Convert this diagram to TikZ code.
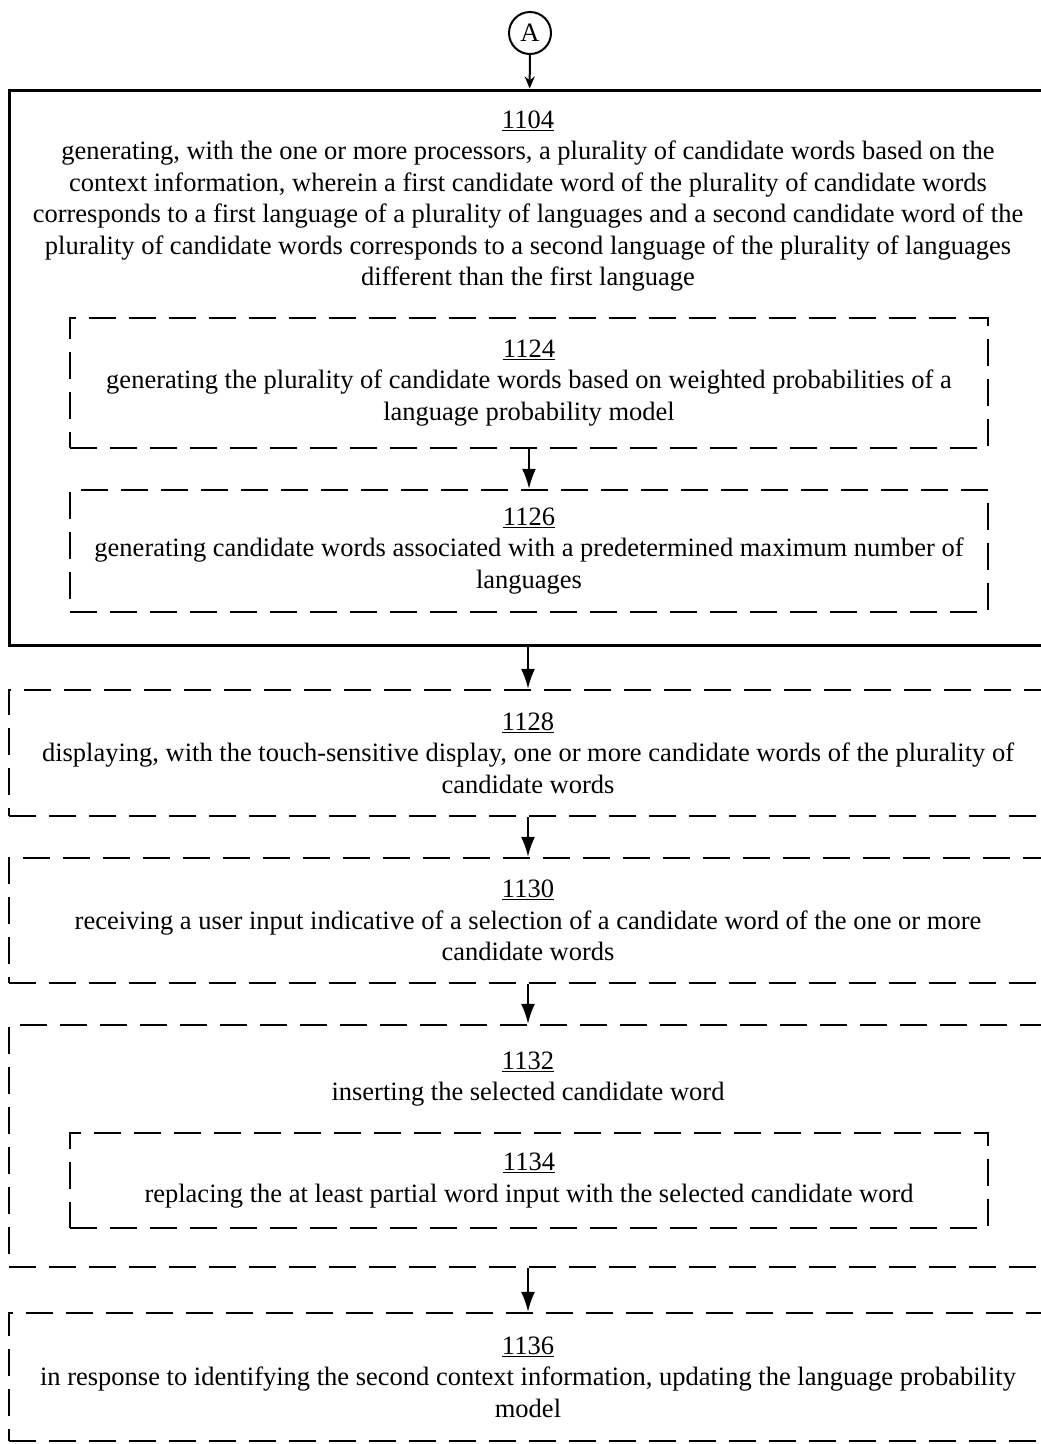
\documentclass[tikz,border=0pt]{standalone}
\usepackage{fontspec}
\setmainfont{Liberation Serif}
\usetikzlibrary{arrows.meta}

\tikzset{
  dashbox/.style={draw, line width=2.4pt, dash pattern=on 27pt off 13pt, inner sep=0pt, align=center},
  solidbox/.style={draw, line width=3pt, inner sep=0pt},
  flow/.style={line width=2pt, -{Latex[length=20pt,width=14pt]}}
}

\begin{document}
\begin{tikzpicture}[x=1pt, y=1pt, font=\fontsize{26.5}{31.5}\selectfont]
\useasboundingbox (0,0) rectangle (1041,-1444);

\node[draw, circle, line width=2pt, minimum size=42pt, inner sep=0pt] (conA) at (530,-33) {A};

% outer step with its two sub-steps
\node[solidbox, minimum width=1038pt, minimum height=555pt] (b1104) at (528,-367.5) {};
\node[align=center] (t1104) at (528,-201) {\underline{1104}\\
generating, with the one or more processors, a plurality of candidate words based on the\\
context information, wherein a first candidate word of the plurality of candidate words\\
corresponds to a first language of a plurality of languages and a second candidate word of the\\
plurality of candidate words corresponds to a second language of the plurality of languages\\
different than the first language};
\node[dashbox, minimum width=918pt, minimum height=130pt] (b1124) at (529,-383) {\underline{1124}\\
generating the plurality of candidate words based on weighted probabilities of a\\
language probability model};
\node[dashbox, minimum width=918pt, minimum height=122pt] (b1126) at (529,-551) {\underline{1126}\\
generating candidate words associated with a predetermined maximum number of\\
languages};

\node[dashbox, minimum width=1038pt, minimum height=126pt] (b1128) at (528,-753) {\underline{1128}\\
displaying, with the touch-sensitive display, one or more candidate words of the plurality of\\
candidate words};
\node[dashbox, minimum width=1038pt, minimum height=125pt] (b1130) at (528,-920.5) {\underline{1130}\\
receiving a user input indicative of a selection of a candidate word of the one or more\\
candidate words};

\node[dashbox, minimum width=1038pt, minimum height=242pt] (b1132) at (528,-1146) {};
\node[align=center] (t1132) at (528,-1079) {\underline{1132}\\inserting the selected candidate word};
\node[dashbox, minimum width=918pt, minimum height=95pt] (b1134) at (529,-1180.5) {\underline{1134}\\
replacing the at least partial word input with the selected candidate word};

\node[dashbox, minimum width=1038pt, minimum height=128pt] (b1136) at (528,-1377) {\underline{1136}\\
in response to identifying the second context information, updating the language probability\\
model};

\draw[flow, -{Stealth[length=12pt,width=10pt]}] (conA) -- (b1104);
\draw[flow] (b1124) -- (b1126);
\draw[flow] (b1104) -- (b1128);
\draw[flow] (b1128) -- (b1130);
\draw[flow] (b1130) -- (b1132);
\draw[flow] (b1132) -- (b1136);
\end{tikzpicture}
\end{document}
